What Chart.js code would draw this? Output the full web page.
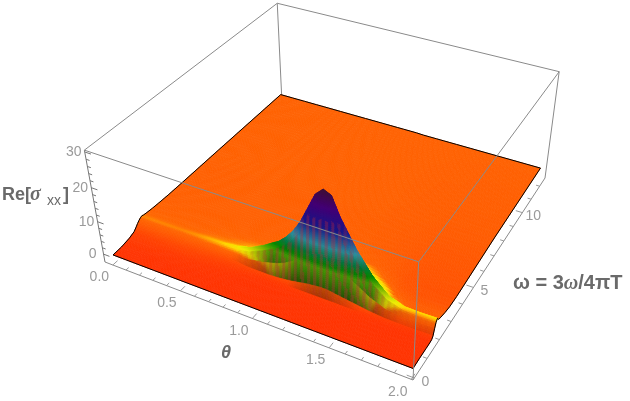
<!DOCTYPE html>
<html><head><meta charset="utf-8">
<style>html,body{margin:0;padding:0;background:#fff}canvas{display:block}</style>
<script src="https://cdn.jsdelivr.net/npm/chart.js@4"></script>
</head><body><canvas id="c" width="630" height="401"></canvas>
<script>
// ---- values ----
const thetaValues=[0,.1,.2,.3,.4,.5,.6,.7,.8,.9,.95,1,1.05,1.1,1.15,1.2,1.25,1.3,1.35,1.4,1.5,1.6,1.7,1.8,1.9,2];
const omegaValues=[0,0.5,1,1.3,1.45,1.55,1.65,1.75,1.85,1.95,2.1,2.5,2.9,3.5,4.5,7,12];
const sigmaRows=[
[.2,.2,.2,.2,.2,.2,.2,.2,.2,.2,.2,.2,.2,.2,.2,.2,.2,.2,.2,.2,.2,.2,.2,.2,.2,.2],
[.3,.3,.3,.3,.3,.3,.3,.3,.3,.3,.3,.3,.3,.3,.3,.3,.3,.3,.3,.3,.3,.3,.3,.3,.3,.3],
[.8,.8,.8,.7,.7,.6,.5,.4,.3,.3,.3,.3,.3,.3,.3,.3,.3,.3,.3,.3,.3,.3,.3,.3,.3,.3],
[1.4,1.4,1.4,1.4,1.4,1.2,1,.8,.6,.4,.4,.4,.4,.4,.4,.4,.4,.4,.4,.4,.4,.4,.3,.3,.3,.3],
[2.2,2.2,2.2,2.1,2,1.9,1.6,1.3,1,.8,.8,.8,.8,.8,.8,.8,.8,.8,.8,.8,.7,.6,.5,.5,.4,.4],
[2.8,2.8,2.8,2.7,2.7,2.6,2.4,2.1,1.6,1.5,1.5,1.6,1.8,2.1,2.5,2.9,3.2,3.4,3.3,2.9,2.2,1.5,1,.9,.9,1],
[3.3,3.3,3.3,3.2,3.2,3.2,3.2,3.3,3.4,4.1,4.7,5.3,6.2,7.5,9.1,11,12.6,13.3,13.1,11,7.8,5,3.1,2.4,2.4,2.6],
[3.7,3.7,3.7,3.6,3.7,3.9,4.1,4.4,5.2,7.1,8.3,9.4,11.1,13.3,16.2,20,23.8,25.5,24.8,20.4,14,8.9,5.4,4,3.8,4],
[3.9,3.9,3.9,3.9,4,4.2,4.4,4.8,6,8.3,9.7,11,13,15.6,19,23.5,28,30,29,24,16.4,10.4,6.2,4.6,4.5,4.6],
[3.7,3.7,3.7,3.7,3.8,4,4.1,4.4,5.4,7.3,8.5,9.7,11.5,13.8,16.8,20.8,24.8,26.4,25.7,21.2,14.5,9.2,5.4,3.8,3.7,3.8],
[3.6,3.6,3.6,3.6,3.6,3.7,3.8,4,4.4,5.5,6.2,6.9,8,9.4,11.2,13.6,16,17,16.6,13.9,9.8,6.4,4.2,3.3,3.2,3.4],
[3.4,3.4,3.4,3.4,3.4,3.5,3.5,3.6,3.7,4.1,4.4,4.8,5.4,6.1,7.1,8.4,9.4,9.9,9.8,8.6,6.5,4.7,3.3,2.8,2.8,2.8],
[3.3,3.3,3.3,3.3,3.3,3.3,3.3,3.3,3.4,3.5,3.6,3.8,4,4.3,4.8,5.4,5.8,6,6,5.4,4.4,3.5,2.7,2.4,2.4,2.4],
[3.2,3.2,3.2,3.2,3.2,3.2,3.2,3.2,3.2,3.3,3.3,3.3,3.4,3.4,3.5,3.6,3.7,3.7,3.7,3.5,3.3,2.9,2.4,2.3,2.3,2.3],
[3.2,3.2,3.2,3.2,3.2,3.2,3.2,3.2,3.2,3.2,3.2,3.2,3.2,3.2,3.2,3.2,3.2,3.2,3.2,3.1,3,2.8,2.6,2.5,2.5,2.5],
[3.3,3.3,3.3,3.3,3.3,3.3,3.3,3.3,3.3,3.3,3.3,3.3,3.3,3.3,3.3,3.3,3.3,3.3,3.2,3.2,3.1,3.1,3,3,3,3],
[3.4,3.4,3.4,3.4,3.4,3.4,3.4,3.4,3.4,3.4,3.4,3.4,3.4,3.4,3.3,3.3,3.3,3.3,3.3,3.3,3.3,3.3,3.3,3.3,3.3,3.3]
];
const thetaTicks=[0,0.5,1,1.5,2];
const thetaTickLabels=["0.0","0.5","1.0","1.5","2.0"];
const omegaTicks=[0,5,10];
const omegaTickLabels=["0","5","10"];
const sigmaTicks=[0,10,20,30];
const sigmaTickLabels=["0","10","20","30"];
const thetaMinor=[0,.1,.2,.3,.4,.5,.6,.7,.8,.9,1,1.1,1.2,1.3,1.4,1.5,1.6,1.7,1.8,1.9,2];
const omegaMinor=[0,1,2,3,4,5,6,7,8,9,10,11,12];
const sigmaMinor=[0,2,4,6,8,10,12,14,16,18,20,22,24,26,28,30];
const colorLevels=[0,3.6,4,4.4,5,7,10,12,15,20,25.5,29.5];
const colorStops=[[255,48,0],[255,102,0],[255,150,0],[255,215,0],[238,238,0],[144,192,0],[0,140,0],[0,128,64],[48,152,168],[26,26,150],[75,0,130],[70,16,64]];
// ---- view: box limits and its corners on the page ----
const boxTheta=[-0.06,2.01],boxOmega=[-0.1,12.65],boxSigma=[-2.5,30.5];
const cA=[105,262],cB=[413,380],cC=[545,178],cD=[282,103],cAt=[88,150],cBt=[418,265],cCt=[559,73],cDt=[275,0];
const H=(()=>{const [x0,y0]=cA,[x1,y1]=cB,[x2,y2]=cC,[x3,y3]=cD;
 const sx=x0-x1+x2-x3,sy=y0-y1+y2-y3,dx1=x1-x2,dx2=x3-x2,dy1=y1-y2,dy2=y3-y2,det=dx1*dy2-dx2*dy1;
 const g=(sx*dy2-dx2*sy)/det,h=(dx1*sy-sx*dy1)/det;
 const a=x1-x0+g*x1,b=x3-x0+h*x3,c=x0,d=y1-y0+g*y1,e=y3-y0+h*y3,f=y0;
 const eqs=[];
 [[0,0,cAt],[1,0,cBt],[1,1,cCt],[0,1,cDt]].forEach(([u,v,P])=>{const w0=g*u+h*v+1;
  eqs.push([1,0,-P[0],P[0]*w0-(a*u+b*v+c)]);eqs.push([0,1,-P[1],P[1]*w0-(d*u+e*v+f)]);});
 const N=[[0,0,0,0],[0,0,0,0],[0,0,0,0]];
 eqs.forEach(q=>{for(let i=0;i<3;i++){for(let j=0;j<3;j++)N[i][j]+=q[i]*q[j];N[i][3]+=q[i]*q[3];}});
 for(let i=0;i<3;i++){const pv=N[i][i];for(let j=i;j<4;j++)N[i][j]/=pv;for(let k=0;k<3;k++)if(k!==i){const m=N[k][i];for(let j=i;j<4;j++)N[k][j]-=m*N[i][j];}}
 return {a,b,c,d,e,f,g,h,p:N[0][3],q:N[1][3],r:N[2][3]};})();
function project(th,om,z){const u=(th-boxTheta[0])/(boxTheta[1]-boxTheta[0]),v=(om-boxOmega[0])/(boxOmega[1]-boxOmega[0]),t=(z-boxSigma[0])/(boxSigma[1]-boxSigma[0]);
 const W=H.g*u+H.h*v+1+H.r*t;
 return {x:(H.a*u+H.b*v+H.c+H.p*t)/W,y:(H.d*u+H.e*v+H.f+H.q*t)/W};}
function colorAt(z){let i=0;while(i<colorLevels.length-2&&z>colorLevels[i+1])i++;
 const f=Math.max(0,Math.min(1,(z-colorLevels[i])/(colorLevels[i+1]-colorLevels[i])));
 return colorStops[i].map((c,k)=>c+(colorStops[i+1][k]-c)*f);}
const nT=thetaValues.length,nO=omegaValues.length;
const clamp01=v=>Math.max(0,Math.min(1,v));
class SurfaceController extends Chart.LineController{
 draw(){const pts=this.getMeta().data,ctx=this.chart.ctx;
  ctx.save();ctx.lineWidth=0.7;ctx.lineJoin='round';
  const P=(j,i)=>pts[j*nT+i];
  for(let j=nO-2;j>=0;j--){for(let i=0;i<nT-1;i++){
   const z00=sigmaRows[j][i],z10=sigmaRows[j][i+1],z01=sigmaRows[j+1][i],z11=sigmaRows[j+1][i+1];
   const a=P(j,i),b=P(j,i+1),c=P(j+1,i),d=P(j+1,i+1);
   const nc=Math.max(2,Math.ceil(Math.abs(b.x-a.x)/1.6));
   const nr=Math.max(2,Math.ceil(Math.max(Math.abs(c.y-a.y),Math.abs(d.y-b.y))/2));
   const pos=(s,t)=>({x:(a.x*(1-s)+b.x*s)*(1-t)+(c.x*(1-s)+d.x*s)*t,y:(a.y*(1-s)+b.y*s)*(1-t)+(c.y*(1-s)+d.y*s)*t});
   for(let rr=nr-1;rr>=0;rr--){for(let cc=0;cc<nc;cc++){
    const s=(cc+.5)/nc,t=(rr+.5)/nr;
    const z=(z00*(1-s)+z10*s)*(1-t)+(z01*(1-s)+z11*s)*t;
    const top=z01*(1-s)+z11*s,bot=z00*(1-s)+z10*s,rise=top-bot;
    const sh=clamp01((rise-1.2)/2.5);
    // steep front faces: low part keeps the hue of the crest and falls into shade
    const hueZ=z<8.5?z+(Math.min(top,8.5)-z)*sh:z;
    let col=colorAt(hueZ);
    const dark=sh*0.6*clamp01(1-z/8.5)+sh*0.1;
    col=col.map(v=>v*(1-dark));
    const cx=pos(s,t).x;
    if(Math.floor(cx/3.1)%2===1&&z<22){const m=0.35*clamp01((rise-1)/3);const red=[190,40,60];col=col.map((v,k)=>v*(1-m)+red[k]*m);}
    const css=`rgb(${col[0]|0},${col[1]|0},${col[2]|0})`;
    const p1=pos(cc/nc,rr/nr),p2=pos((cc+1)/nc,rr/nr),p3=pos((cc+1)/nc,(rr+1)/nr),p4=pos(cc/nc,(rr+1)/nr);
    ctx.fillStyle=css;ctx.strokeStyle=css;ctx.beginPath();ctx.moveTo(p1.x,p1.y);ctx.lineTo(p2.x,p2.y);ctx.lineTo(p3.x,p3.y);ctx.lineTo(p4.x,p4.y);ctx.closePath();ctx.fill();ctx.stroke();
   }}
  }}
  ctx.restore();}
}
SurfaceController.id='surface';
SurfaceController.defaults={...Chart.LineController.defaults};
Chart.register(SurfaceController);
const surfacePoints=[];
omegaValues.forEach((om,j)=>thetaValues.forEach((th,i)=>{const p=project(th,om,sigmaRows[j][i]);surfacePoints.push({x:p.x,y:p.y,z:sigmaRows[j][i]});}));
const T0=boxTheta[0],T1=boxTheta[1],O0=boxOmega[0],O1=boxOmega[1],Z0=boxSigma[0],Z1=boxSigma[1];
const datasets=[];
function seg(points,color,width,order){datasets.push({type:'scatter',showLine:true,data:points,borderColor:color,borderWidth:width,pointRadius:0,order,fill:false,tension:0});}
const boxColor='#8a8a8a';
seg([project(T0,O1,Z0),project(T0,O1,Z1)],boxColor,1,30);
seg([project(T0,O0,Z1),project(T0,O1,Z1),project(T1,O1,Z1)],boxColor,1,30);
seg([project(T1,O1,Z0),project(T1,O1,Z1)],boxColor,1,30);
seg([project(T0,O0,Z0),project(T0,O0,Z1)],'#777',1,30);
seg([project(T1,O0,Z0),project(T1,O1,Z0)],boxColor,1,30);
seg([project(T0,O0,Z0),project(T1,O0,Z0)],boxColor,1,30);
datasets.push({type:'surface',data:surfacePoints,pointRadius:0,borderWidth:0,showLine:false,order:20});
const lastOmega=omegaValues[nO-1];
seg(thetaValues.map((th,i)=>project(th,0,sigmaRows[0][i])),'#000',1,10);
seg(thetaValues.map((th,i)=>project(th,lastOmega,sigmaRows[nO-1][i])),'#000',1,15);
seg(omegaValues.map((om,j)=>project(2,om,sigmaRows[j][nT-1])),'#000',1,10);
seg(omegaValues.map((om,j)=>project(0,om,sigmaRows[j][0])),'#000',1,15);
seg([project(T0,O0,Z1),project(T1,O0,Z1),project(T1,O1,Z1)],boxColor,1,5);
seg([project(T1,O0,Z0),project(T1,O0,Z1)],boxColor,1,5);
thetaMinor.forEach(v=>{const L=thetaTicks.includes(v)?.28:.16;seg([project(v,O0,Z0),project(v,O0+L,Z0)],'#999',1,6);});
omegaMinor.forEach(v=>{const L=omegaTicks.includes(v)?.045:.025;seg([project(T1,v,Z0),project(T1-L,v,Z0)],'#999',1,6);});
sigmaMinor.forEach(v=>{const L=sigmaTicks.includes(v)?.045:.025;seg([project(T0,O0,v),project(T0+L,O0,v)],'#777',1,6);});
const labelPlugin={id:'labels',afterDraw(chart){const ctx=chart.ctx,X=chart.scales.x,Y=chart.scales.y;ctx.save();
 const put=(p,dx,dy,s)=>ctx.fillText(s,X.getPixelForValue(p.x)+dx,Y.getPixelForValue(p.y)+dy);
 ctx.font='14px "Liberation Sans"';ctx.fillStyle='#9a9a9a';ctx.textAlign='center';ctx.textBaseline='middle';
 thetaTicks.forEach((v,i)=>put(project(v,O0,Z0),-13.5,12.5,thetaTickLabels[i]));
 omegaTicks.forEach((v,i)=>put(project(T1,v,Z0),11,4,omegaTickLabels[i]));
 sigmaTicks.forEach((v,i)=>put(project(T0,O0,v),-11,0,sigmaTickLabels[i]));
 ctx.fillStyle='#6a6a6a';ctx.textBaseline='alphabetic';ctx.textAlign='left';
 ctx.font='bold 18px "Liberation Sans"';ctx.fillText('Re[',2,200);
 ctx.font='italic bold 20px "Liberation Serif"';ctx.fillText('σ',30,200);
 ctx.font='14px "Liberation Sans"';ctx.fillText('xx',47,205);
 ctx.font='bold 18px "Liberation Sans"';ctx.fillText(']',63,200);
 ctx.font='italic bold 18px "Liberation Sans"';ctx.fillText('θ',221,358);
 let x=513;const piece=(f,s)=>{ctx.font=f;ctx.fillText(s,x,289);x+=ctx.measureText(s).width;};
 const bf='bold 20px "Liberation Sans"',itf='italic bold 20px "Liberation Serif"';
 piece(bf,'ω = 3');piece(itf,'ω');piece(bf,'/4πT');
 ctx.restore();}};
new Chart(document.getElementById('c'),{type:'scatter',data:{datasets},
 options:{responsive:false,animation:false,events:[],layout:{padding:0},
  plugins:{legend:{display:false},tooltip:{enabled:false}},
  scales:{x:{type:'linear',min:0,max:630,display:false},y:{type:'linear',min:0,max:401,reverse:true,display:false}}},
 plugins:[labelPlugin]});
</script></body></html>
